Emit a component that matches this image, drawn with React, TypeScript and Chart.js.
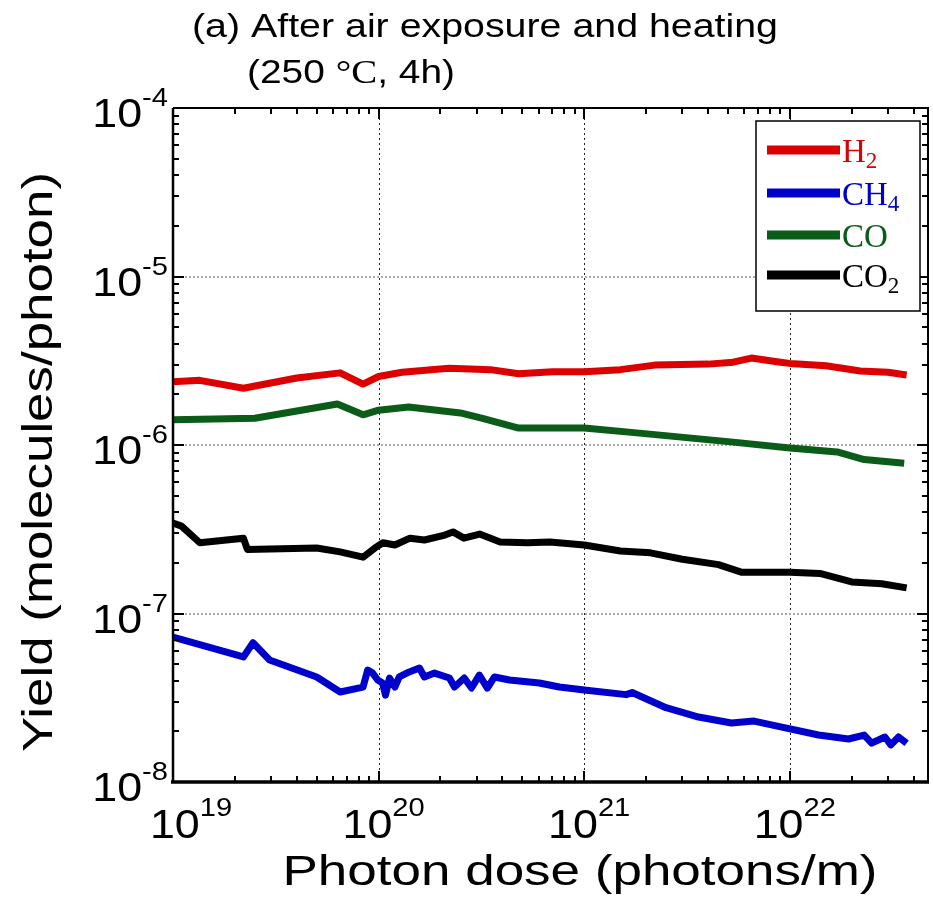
import { useEffect, useRef } from "react";
import { Chart, registerables } from "chart.js";

Chart.register(...registerables);

// ---------- text ----------
const TITLE_LINE1 = "(a) After air exposure and heating";
const TITLE_LINE2_PARTS = ["(250 ", "°C", ", 4h)"];
const X_TITLE = "Photon dose (photons/m)";
const Y_TITLE = "Yield (molecules/photon)";

// ---------- axes ----------
const X_MIN = 1e19;
const X_MAX = 4.7e22;
const Y_MIN = 1e-8;
const Y_MAX = 1e-4;
const X_DECADES = [19, 20, 21, 22];
const Y_DECADES = [-8, -7, -6, -5, -4];

// ---------- series ----------
const seriesNames = ["H2", "CH4", "CO", "CO2"];
const seriesColors = ["#dd0000", "#0000cc", "#0a5c18", "#000000"];

const h2X = [1.0e19, 1.35e19, 2.2e19, 4.0e19, 6.5e19, 8.4e19, 1.0e20, 1.3e20, 2.2e20, 3.5e20, 4.8e20, 7.0e20, 1.0e21, 1.5e21, 2.2e21, 4.0e21, 5.3e21, 6.5e21, 9.0e21, 1.0e22, 1.5e22, 2.2e22, 3.0e22, 3.7e22];
const h2Y = [2.37e-6, 2.42e-6, 2.17e-6, 2.5e-6, 2.68e-6, 2.3e-6, 2.55e-6, 2.7e-6, 2.85e-6, 2.8e-6, 2.65e-6, 2.72e-6, 2.72e-6, 2.8e-6, 2.98e-6, 3.02e-6, 3.1e-6, 3.28e-6, 3.1e-6, 3.05e-6, 2.95e-6, 2.75e-6, 2.7e-6, 2.6e-6];

const coX = [1.0e19, 2.5e19, 6.3e19, 8.4e19, 1.0e20, 1.4e20, 2.5e20, 3.2e20, 4.8e20, 1.0e21, 1.8e21, 5.3e21, 1.0e22, 1.7e22, 2.3e22, 3.6e22];
const coY = [1.41e-6, 1.44e-6, 1.75e-6, 1.51e-6, 1.61e-6, 1.68e-6, 1.55e-6, 1.44e-6, 1.26e-6, 1.26e-6, 1.18e-6, 1.04e-6, 9.6e-7, 9.1e-7, 8.2e-7, 7.8e-7];

const co2X = [1.0e19, 1.1e19, 1.35e19, 2.2e19, 2.3e19, 5.0e19, 6.5e19, 8.4e19, 9.6e19, 1.05e20, 1.2e20, 1.42e20, 1.67e20, 2.1e20, 2.3e20, 2.6e20, 3.1e20, 3.9e20, 5.3e20, 6.8e20, 1.0e21, 1.5e21, 2.1e21, 3.0e21, 4.5e21, 5.8e21, 1.0e22, 1.4e22, 2.0e22, 2.8e22, 3.7e22];
const co2Y = [3.44e-7, 3.3e-7, 2.63e-7, 2.8e-7, 2.4e-7, 2.45e-7, 2.32e-7, 2.16e-7, 2.45e-7, 2.63e-7, 2.55e-7, 2.8e-7, 2.73e-7, 2.92e-7, 3.05e-7, 2.8e-7, 2.96e-7, 2.66e-7, 2.63e-7, 2.66e-7, 2.55e-7, 2.35e-7, 2.29e-7, 2.1e-7, 1.95e-7, 1.76e-7, 1.76e-7, 1.73e-7, 1.54e-7, 1.5e-7, 1.42e-7];

const ch4X = [1.0e19, 2.2e19, 2.45e19, 2.95e19, 5.0e19, 6.5e19, 8.4e19, 8.85e19, 9.35e19, 9.9e19, 1.045e20, 1.08e20, 1.13e20, 1.2e20, 1.26e20, 1.41e20, 1.58e20, 1.67e20, 1.87e20, 2.21e20, 2.34e20, 2.61e20, 2.83e20, 3.09e20, 3.38e20, 3.66e20, 4.33e20, 6.05e20, 7.57e20, 1.0e21, 1.6e21, 1.71e21, 2.5e21, 3.6e21, 5.2e21, 6.7e21, 8.8e21, 1.38e22, 1.93e22, 2.3e22, 2.5e22, 2.9e22, 3.1e22, 3.38e22, 3.7e22];
const ch4Y = [7.24e-8, 5.52e-8, 6.7e-8, 5.3e-8, 4.2e-8, 3.42e-8, 3.66e-8, 4.62e-8, 4.43e-8, 4.03e-8, 3.87e-8, 3.28e-8, 4.14e-8, 3.66e-8, 4.2e-8, 4.5e-8, 4.75e-8, 4.2e-8, 4.43e-8, 4.14e-8, 3.66e-8, 4.14e-8, 3.61e-8, 4.31e-8, 3.61e-8, 4.2e-8, 4.03e-8, 3.87e-8, 3.66e-8, 3.52e-8, 3.3e-8, 3.4e-8, 2.76e-8, 2.43e-8, 2.24e-8, 2.3e-8, 2.14e-8, 1.9e-8, 1.8e-8, 1.9e-8, 1.7e-8, 1.85e-8, 1.66e-8, 1.85e-8, 1.7e-8];

const seriesX = [h2X, ch4X, coX, co2X];
const seriesY = [h2Y, ch4Y, coY, co2Y];

const SANS = '"Liberation Sans", Arial, Helvetica, sans-serif';
const SERIF = '"Liberation Serif", "Times New Roman", serif';

function drawScaledText(ctx: CanvasRenderingContext2D, text: string, x: number, y: number, sx: number, align: "left" | "right" | "center") {
  const w = ctx.measureText(text).width * sx;
  let left = x;
  if (align === "right") left = x - w;
  if (align === "center") left = x - w / 2;
  ctx.save();
  ctx.translate(left, y);
  ctx.scale(sx, 1);
  ctx.textAlign = "left";
  ctx.fillText(text, 0, 0);
  ctx.restore();
  return w;
}

const framePlugin = {
  id: "framePlugin",
  beforeDatasetsDraw(chart: any) {
    const { ctx, chartArea: a, scales } = chart;
    const xs = scales.x;
    const ys = scales.y;
    ctx.save();
    ctx.setLineDash([2, 3]);
    ctx.strokeStyle = "#222";
    ctx.lineWidth = 1;
    for (const d of X_DECADES) {
      const v = Math.pow(10, d);
      if (v <= X_MIN || v >= X_MAX) continue;
      const px = Math.round(xs.getPixelForValue(v)) + 0.5;
      ctx.beginPath();
      ctx.moveTo(px, a.top);
      ctx.lineTo(px, a.bottom);
      ctx.stroke();
    }
    ctx.setLineDash([2, 2]);
    ctx.strokeStyle = "#aaa";
    ctx.lineWidth = 2;
    for (const d of Y_DECADES) {
      const v = Math.pow(10, d);
      if (v <= Y_MIN || v >= Y_MAX) continue;
      const py = Math.round(ys.getPixelForValue(v));
      ctx.beginPath();
      ctx.moveTo(a.left, py);
      ctx.lineTo(a.right, py);
      ctx.stroke();
    }
    ctx.restore();
  },
  afterDraw(chart: any) {
    const { ctx, chartArea: a, scales } = chart;
    const xs = scales.x;
    const ys = scales.y;
    ctx.save();
    ctx.setLineDash([]);
    ctx.strokeStyle = "#000";
    ctx.fillStyle = "#000";

    ctx.lineWidth = 2;
    const xTicks: { v: number; major: boolean }[] = [];
    for (const d of X_DECADES) {
      for (let m = 1; m <= 9; m++) {
        const v = m * Math.pow(10, d);
        if (v >= X_MIN && v <= X_MAX) xTicks.push({ v, major: m === 1 });
      }
    }
    const yTicks: { v: number; major: boolean }[] = [];
    for (const d of Y_DECADES) {
      for (let m = 1; m <= 9; m++) {
        const v = m * Math.pow(10, d);
        if (v >= Y_MIN && v <= Y_MAX) yTicks.push({ v, major: m === 1 });
      }
    }
    ctx.beginPath();
    for (const t of xTicks) {
      const px = Math.round(xs.getPixelForValue(t.v));
      const len = t.major ? 11 : 6;
      ctx.moveTo(px, a.bottom);
      ctx.lineTo(px, a.bottom - len);
      ctx.moveTo(px, a.top);
      ctx.lineTo(px, a.top + len);
    }
    for (const t of yTicks) {
      const py = Math.round(ys.getPixelForValue(t.v));
      const len = t.major ? 11 : 6;
      ctx.moveTo(a.left, py);
      ctx.lineTo(a.left + len, py);
      ctx.moveTo(a.right, py);
      ctx.lineTo(a.right - len, py);
    }
    ctx.stroke();

    ctx.lineWidth = 2;
    ctx.beginPath();
    ctx.moveTo(a.left, a.top);
    ctx.lineTo(a.right, a.top);
    ctx.lineTo(a.right, a.bottom);
    ctx.stroke();
    ctx.lineWidth = 2.5;
    ctx.beginPath();
    ctx.moveTo(a.left, a.top);
    ctx.lineTo(a.left, a.bottom);
    ctx.stroke();
    ctx.lineWidth = 3.5;
    ctx.beginPath();
    ctx.moveTo(a.left - 2, a.bottom);
    ctx.lineTo(a.right + 1, a.bottom);
    ctx.stroke();

    const SX = 1.12;
    ctx.textBaseline = "alphabetic";
    for (const d of X_DECADES) {
      const v = Math.pow(10, d);
      const px = xs.getPixelForValue(v);
      ctx.font = `40px ${SANS}`;
      const wBase = ctx.measureText("10").width * SX;
      ctx.font = `26px ${SANS}`;
      const wSup = ctx.measureText(String(d)).width * SX;
      const total = wBase + wSup;
      const center = d === 19 ? px + 18 : px + 5;
      const left = center - total / 2;
      ctx.font = `40px ${SANS}`;
      drawScaledText(ctx, "10", left, a.bottom + 56, SX, "left");
      ctx.font = `26px ${SANS}`;
      drawScaledText(ctx, String(d), left + wBase, a.bottom + 34, SX, "left");
    }
    for (const d of Y_DECADES) {
      const v = Math.pow(10, d);
      const py = ys.getPixelForValue(v);
      const sup = "-" + String(-d);
      ctx.font = `26px ${SANS}`;
      const wSup = ctx.measureText(sup).width * SX;
      const right = a.left - 5;
      drawScaledText(ctx, sup, right, py - 2, SX, "right");
      ctx.font = `40px ${SANS}`;
      drawScaledText(ctx, "10", right - wSup, py + 19, SX, "right");
    }

    ctx.font = `42px ${SANS}`;
    {
      const w = ctx.measureText(X_TITLE).width;
      const sx = 595 / w;
      drawScaledText(ctx, X_TITLE, 580, 885, sx, "center");
    }
    {
      const w = ctx.measureText(Y_TITLE).width;
      const sx = 580 / w;
      ctx.save();
      ctx.translate(52, 462);
      ctx.rotate(-Math.PI / 2);
      drawScaledText(ctx, Y_TITLE, 0, 0, sx, "center");
      ctx.restore();
    }

    ctx.font = `33px ${SANS}`;
    {
      const w = ctx.measureText(TITLE_LINE1).width;
      const sx = 586 / w;
      drawScaledText(ctx, TITLE_LINE1, 192, 37, sx, "left");
    }
    {
      const fonts = [`33px ${SANS}`, `33px ${SERIF}`, `33px ${SANS}`];
      let total = 0;
      TITLE_LINE2_PARTS.forEach((p, i) => {
        ctx.font = fonts[i];
        total += ctx.measureText(p).width;
      });
      const sx = 208 / total;
      let x = 247;
      TITLE_LINE2_PARTS.forEach((p, i) => {
        ctx.font = fonts[i];
        x += drawScaledText(ctx, p, x, 83, sx, "left");
      });
    }

    const bx = 756, by = 121, bw = 164, bh = 190;
    ctx.fillStyle = "#fff";
    ctx.fillRect(bx, by, bw, bh);
    ctx.strokeStyle = "#000";
    ctx.lineWidth = 1.5;
    ctx.strokeRect(bx, by, bw, bh);
    const rows = [150, 193, 235, 275];
    seriesNames.forEach((name, i) => {
      const yy = rows[i];
      ctx.strokeStyle = seriesColors[i];
      ctx.lineWidth = 9;
      ctx.beginPath();
      ctx.moveTo(767, yy);
      ctx.lineTo(840, yy);
      ctx.stroke();
      const m = name.match(/^([A-Z]+?)(\d*)$/);
      const base = m ? m[1] : name;
      const sub = m ? m[2] : "";
      ctx.fillStyle = seriesColors[i];
      ctx.font = `33px ${SERIF}`;
      const w = drawScaledText(ctx, base, 842, yy + 12, 1, "left");
      if (sub) {
        ctx.font = `23px ${SERIF}`;
        drawScaledText(ctx, sub, 842 + w, yy + 18, 1, "left");
      }
    });

    ctx.restore();
  },
};

export default function App() {
  const canvasRef = useRef<HTMLCanvasElement | null>(null);

  useEffect(() => {
    document.body.style.margin = "0";
    const canvas = canvasRef.current;
    if (!canvas) return;
    const datasets = seriesNames.map((name, i) => ({
      label: name,
      data: seriesX[i].map((x, j) => ({ x, y: seriesY[i][j] })),
      borderColor: seriesColors[i],
      backgroundColor: seriesColors[i],
      borderWidth: 7,
      pointRadius: 0,
      tension: 0,
      fill: false,
      borderJoinStyle: "round" as const,
      borderCapStyle: "butt" as const,
    }));
    const chart = new Chart(canvas, {
      type: "line",
      data: { datasets },
      options: {
        animation: false,
        responsive: false,
        maintainAspectRatio: false,
        devicePixelRatio: 1,
        layout: { padding: { left: 173, top: 108, right: 5, bottom: 125 } },
        plugins: { legend: { display: false }, title: { display: false }, tooltip: { enabled: false } },
        scales: {
          x: { type: "logarithmic", min: X_MIN, max: X_MAX, display: false },
          y: { type: "logarithmic", min: Y_MIN, max: Y_MAX, display: false },
        },
      },
      plugins: [framePlugin],
    });
    return () => chart.destroy();
  }, []);

  return (
    <div style={{ width: 933, height: 907, background: "#fff" }}>
      <canvas ref={canvasRef} width={933} height={907} style={{ display: "block" }} />
    </div>
  );
}
